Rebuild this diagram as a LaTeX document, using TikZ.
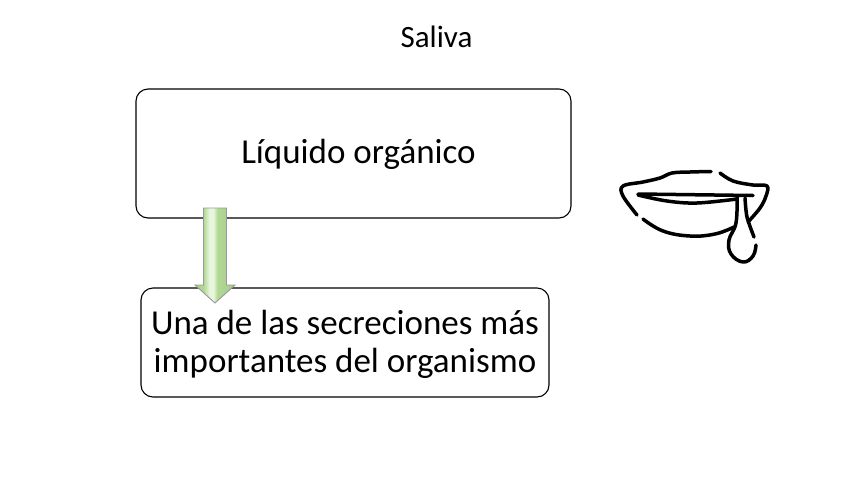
\documentclass[tikz,border=0pt]{standalone}
\usepackage{fontspec}
\setmainfont{Carlito}
\usepackage{tikz}
\usetikzlibrary{calc}
\definecolor{arrowgreen}{RGB}{178,216,150}
\definecolor{arrowdark}{RGB}{150,190,125}
\definecolor{arrowlight}{RGB}{232,246,222}
\pgfdeclarehorizontalshading{arrowshade}{100bp}{color(0bp)=(arrowdark); color(36bp)=(arrowgreen); color(43bp)=(arrowlight); color(48bp)=(arrowlight); color(53bp)=(arrowgreen); color(100bp)=(arrowdark)}
\tikzset{
  roundbox/.style={draw=black, line width=1.1pt, rounded corners=12pt, fill=white},
  boxtext/.style={align=center, font=\fontsize{35}{38}\selectfont},
  titletext/.style={font=\fontsize{31}{36}\selectfont},
  fatarrow/.style={draw=gray!80, line width=0.9pt, shading=arrowshade},
  lipline/.style={line width=3.5pt, line cap=round, line join=round}
}
\begin{document}
\begin{tikzpicture}[x=1pt, y=-1pt]
	\useasboundingbox (0, 0) rectangle (848, 477);

	\node[titletext] (title) at (436.5, 37) {Saliva};

	\draw[roundbox] (136, 89) rectangle (571, 218);
	\node[boxtext] (liquido) at (358.5, 154) {Líquido orgánico};

	\draw[roundbox] (141, 288) rectangle (549, 397);
	\node[boxtext] (secreciones) at (345, 344.5) {Una de las secreciones más\\importantes del organismo};

	\coordinate (arrowtop) at (215, 208);
	\coordinate (arrowtip) at (215, 303);
	\path[fatarrow] ($(arrowtop) + (-11.5, 0)$) -- ($(arrowtop) + (11.5, 0)$) -- ($(arrowtip) + (11.5, -18)$) -- ($(arrowtip) + (20, -18)$) -- (arrowtip) -- ($(arrowtip) + (-20, -18)$) -- ($(arrowtip) + (-11.5, -18)$) -- cycle;

	% upper lip
	\draw[lipline] plot[smooth, tension=0.6] coordinates {(637, 215) (623, 196) (623, 186) (643, 182) (660, 178) (672, 173) (690, 172) (711, 171.5)};
	\draw[lipline] plot[smooth, tension=0.6] coordinates {(720, 173) (733, 181) (753, 185) (767, 186) (766, 196) (760, 208) (748, 222)};
	% mouth
	\draw[lipline] (638, 194) -- (753, 195.5);
	\draw[lipline] plot[smooth, tension=0.6] coordinates {(638, 195) (667, 201) (697, 203) (737, 199)};
	% lower lip
	\draw[lipline] plot[smooth, tension=0.7] coordinates {(643, 219) (663, 231) (690, 236) (715, 234) (734, 227)};
	% drop
	\draw[lipline] plot[smooth, tension=0.7] coordinates {(737, 197) (736, 223) (729, 240) (731, 254) (743, 262) (753, 256) (756, 245)};
	\draw[lipline] plot[smooth, tension=0.5] coordinates {(745, 198) (747, 217) (754, 237)};
\end{tikzpicture}
\end{document}
